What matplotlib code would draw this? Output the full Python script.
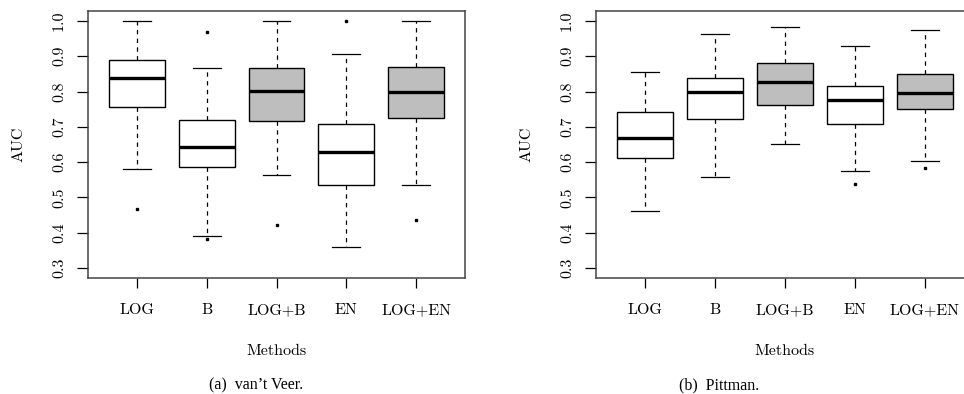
import numpy as np
import matplotlib.pyplot as plt

plt.rcParams['font.family'] = ['cmr10', 'DejaVu Serif']
plt.rcParams['axes.formatter.use_mathtext'] = True

methods = ['LOG', 'B', 'LOG+B', 'EN', 'LOG+EN']
box_fill = ['white', 'white', '#bebebe', 'white', '#bebebe']

# van't Veer: whisker low, q1, median, q3, whisker high, outliers
veer_wlo = [0.581, 0.390, 0.564, 0.359, 0.536]
veer_q1 = [0.757, 0.587, 0.717, 0.536, 0.724]
veer_med = [0.838, 0.643, 0.801, 0.628, 0.798]
veer_q3 = [0.889, 0.718, 0.868, 0.707, 0.869]
veer_whi = [1.000, 0.866, 1.000, 0.905, 1.000]
veer_out = [[0.466], [0.968, 0.383], [0.421], [1.000], [0.436]]

# Pittman
pitt_wlo = [0.462, 0.559, 0.650, 0.575, 0.604]
pitt_q1 = [0.611, 0.723, 0.761, 0.707, 0.750]
pitt_med = [0.668, 0.800, 0.826, 0.775, 0.796]
pitt_q3 = [0.742, 0.838, 0.882, 0.815, 0.850]
pitt_whi = [0.856, 0.964, 0.984, 0.929, 0.973]
pitt_out = [[], [], [], [0.538], [0.584]]

yticks = [0.3, 0.4, 0.5, 0.6, 0.7, 0.8, 0.9, 1.0]


def draw(ax, wlo, q1, med, q3, whi, out):
    stats = []
    for i in range(len(methods)):
        stats.append(dict(whislo=wlo[i], q1=q1[i], med=med[i], q3=q3[i],
                          whishi=whi[i], fliers=out[i], label=methods[i]))
    bp = ax.bxp(stats, positions=range(1, 6), widths=0.8, capwidths=0.4,
                patch_artist=True, showfliers=True,
                boxprops=dict(edgecolor='black', linewidth=1.0),
                medianprops=dict(color='black', linewidth=2.4),
                whiskerprops=dict(color='black', linewidth=0.9, linestyle=(0, (3.5, 3.5))),
                capprops=dict(color='black', linewidth=0.9),
                flierprops=dict(marker='s', markersize=1.6, markerfacecolor='black',
                                markeredgecolor='black', linestyle='none'))
    for patch, c in zip(bp['boxes'], box_fill):
        patch.set_facecolor(c)
    ax.set_xlim(0.3, 5.7)
    ax.set_ylim(0.272, 1.028)
    ax.set_yticks(yticks)
    ax.set_yticklabels(['%.1f' % v for v in yticks], rotation=90, va='center')
    ax.set_xticks(range(1, 6))
    ax.set_xticklabels(methods)
    ax.tick_params(axis='y', length=7.8, width=0.9, pad=8, labelsize=11.5)
    ax.tick_params(axis='x', length=7.5, width=0.9, pad=11, labelsize=11.5)
    for s in ax.spines.values():
        s.set_linewidth(1.1)
        s.set_color('#444444')
    ax.set_ylabel('AUC', fontsize=11.5, labelpad=19)
    ax.set_xlabel('Methods', fontsize=11.5, labelpad=19)


fig = plt.figure(figsize=(9.64, 3.94), dpi=100)
W, H = 964, 394
ax1 = fig.add_axes([88 / W, 1 - 278 / H, (465 - 88) / W, (278 - 11) / H])
ax2 = fig.add_axes([596 / W, 1 - 278 / H, (973.7 - 596) / W, (278 - 11) / H])

draw(ax1, veer_wlo, veer_q1, veer_med, veer_q3, veer_whi, veer_out)
draw(ax2, pitt_wlo, pitt_q1, pitt_med, pitt_q3, pitt_whi, pitt_out)

fig.text(256 / W, 1 - 385 / H, "(a)  van\u2019t Veer.", ha='center', va='center',
         family='Liberation Serif', fontsize=11.5)
fig.text(719 / W, 1 - 385 / H, "(b)  Pittman.", ha='center', va='center',
         family='Liberation Serif', fontsize=11.5)

fig.savefig('out.png', dpi=100)
